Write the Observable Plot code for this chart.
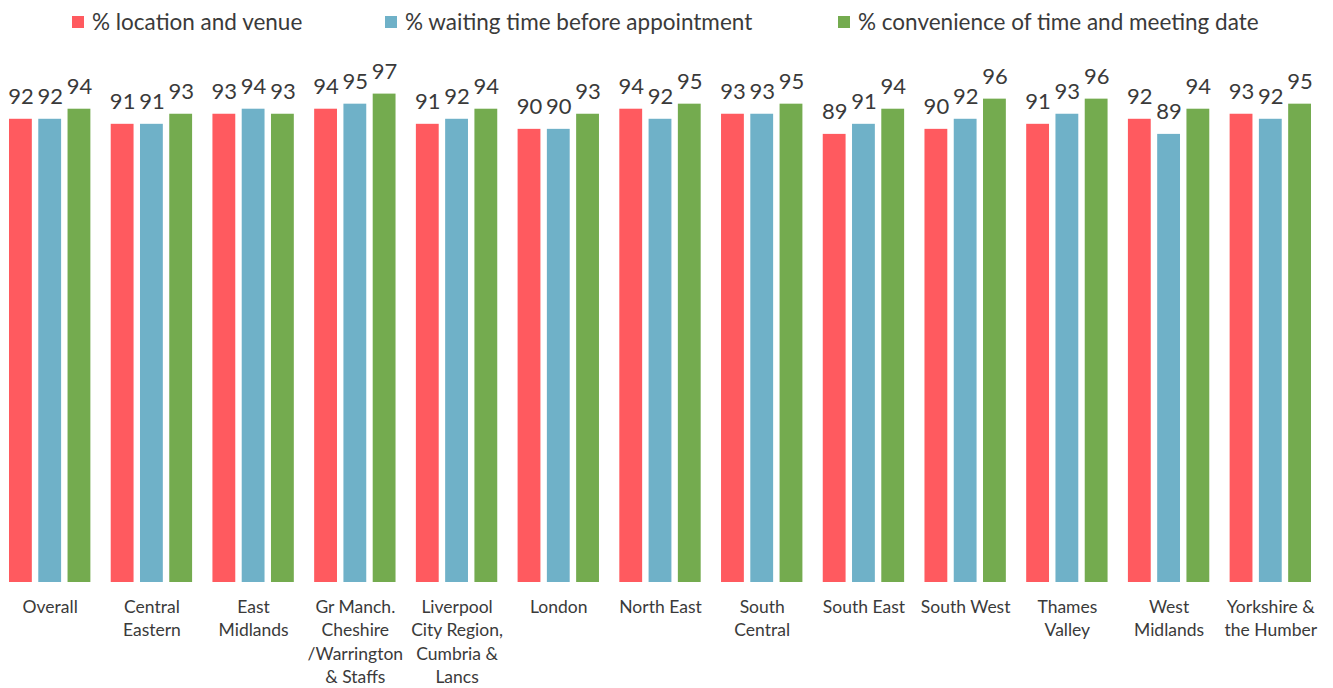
<!DOCTYPE html>
<html>
<head>
<meta charset="utf-8">
<script src="https://cdn.jsdelivr.net/npm/d3@7"></script>
<script src="https://cdn.jsdelivr.net/npm/@observablehq/plot@0.6"></script>
<style>
  body { margin: 0; background: #fff; font-family: Lato, "Open Sans", sans-serif; }
  #legend { position: relative; height: 45px; width: 1333px; color: #3a3a3a; font-size: 22.5px; }
  .item { position: absolute; top: 8px; display: flex; align-items: center; white-space: nowrap; }
  .sw { width: 12px; height: 12px; margin-right: 8px; }
  svg { display: block; }
</style>
</head>
<body>
<div id="legend"></div>
<div id="chart"></div>
<script>
const regions = [
  "Overall", "Central\nEastern", "East\nMidlands", "Gr Manch.\nCheshire\n/Warrington\n& Staffs",
  "Liverpool\nCity Region,\nCumbria &\nLancs", "London", "North East", "South\nCentral",
  "South East", "South West", "Thames\nValley", "West\nMidlands", "Yorkshire &\nthe Humber"
];
const series = ["% location and venue", "% waiting time before appointment", "% convenience of time and meeting date"];
const colors = ["#FF5A5F", "#6FB1C8", "#74AB4F"];
const locationVenue = [92, 91, 93, 94, 91, 90, 94, 93, 89, 90, 91, 92, 93];
const waitingTime   = [92, 91, 94, 95, 92, 90, 92, 93, 91, 92, 93, 89, 92];
const convenience   = [94, 93, 93, 97, 94, 93, 95, 95, 94, 96, 96, 94, 95];

const valuesBySeries = [locationVenue, waitingTime, convenience];
const data = [];
regions.forEach((r, i) => {
  series.forEach((s, j) => data.push({region: r, series: s, value: valuesBySeries[j][i]}));
});

// legend
const legendLefts = [72, 385, 838];
const legend = document.getElementById("legend");
series.forEach((s, j) => {
  const it = document.createElement("div");
  it.className = "item";
  it.style.left = legendLefts[j] + "px";
  it.innerHTML = `<div class="sw" style="background:${colors[j]}"></div><span>${s}</span>`;
  legend.appendChild(it);
});

const chart = Plot.plot({
  width: 1333,
  height: 643,
  marginLeft: 9,
  marginRight: 22,
  marginTop: 33.5,
  marginBottom: 106,
  style: {fontFamily: "Lato, 'Open Sans', sans-serif", color: "#3a3a3a", background: "#fff"},
  fx: {domain: regions, paddingInner: 0.2, paddingOuter: 0, round: false, label: null},
  x: {domain: series, paddingInner: 0.22, paddingOuter: 0, round: false, axis: null},
  y: {domain: [0, 100], axis: null},
  color: {domain: series, range: colors},
  marks: [
    Plot.barY(data, {fx: "region", x: "series", y: "value", fill: "series"}),
    Plot.text(data, {fx: "region", x: "series", y: "value", text: d => String(d.value),
      dy: -22, fontSize: 22, fill: "#3a3a3a"}),
    Plot.axisFx({anchor: "bottom", tickSize: 0, tickPadding: 14, fontSize: 17.5, lineHeight: 23.3/17.5,
      label: null, fill: "#3a3a3a"})
  ]
});
document.getElementById("chart").appendChild(chart);
</script>
</body>
</html>
